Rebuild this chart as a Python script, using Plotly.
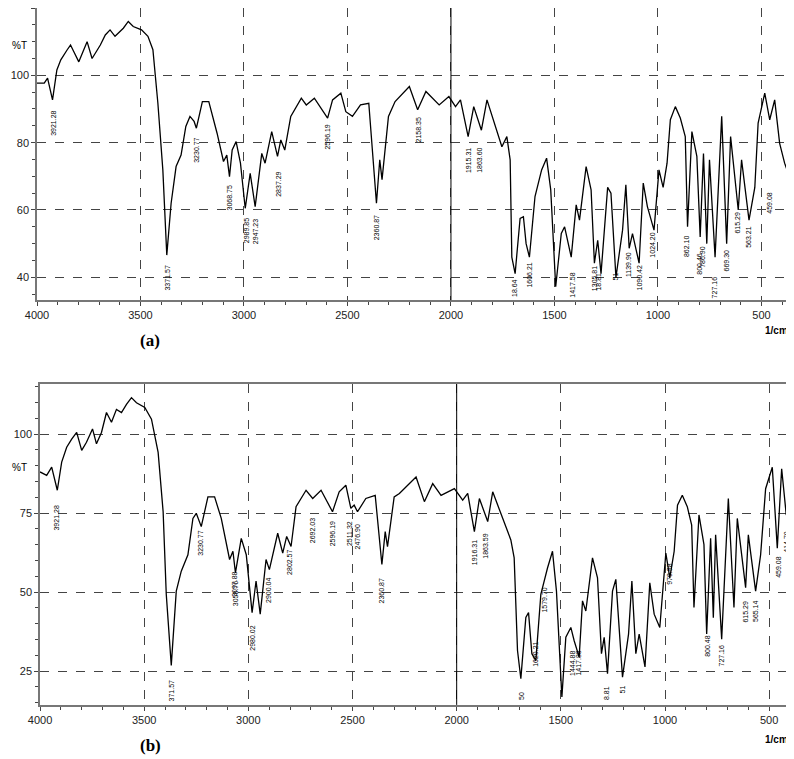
import plotly.graph_objects as go
from plotly.subplots import make_subplots

# spectrum (a): wavenumber (1/cm) and transmittance (%T)
wn_a = [4000, 3965, 3949, 3925, 3904, 3885, 3854, 3838, 3822, 3798, 3758, 3734, 3694, 3670,
        3647, 3623, 3583, 3559, 3535, 3495, 3464, 3440, 3416, 3392, 3373, 3352, 3328, 3304,
        3281, 3261, 3241, 3230, 3201, 3170, 3130, 3099, 3083, 3070, 3057, 3038, 3017, 2994,
        2970, 2946, 2914, 2898, 2866, 2838, 2822, 2803, 2774, 2723, 2699, 2660, 2596, 2572,
        2532, 2508, 2476, 2437, 2397, 2360, 2344, 2333, 2302, 2270, 2201, 2161, 2121,
        2057, 2010, 1978, 1954, 1917, 1890, 1853, 1826, 1786, 1754, 1730, 1714, 1706, 1690,
        1666, 1650, 1637, 1621, 1594, 1562, 1538, 1518, 1494, 1467, 1451, 1435, 1419, 1395,
        1379, 1347, 1323, 1307, 1291, 1275, 1243, 1227, 1203, 1171, 1155, 1139, 1123, 1091,
        1071, 1051, 1019, 995, 975, 956, 940, 916, 892, 868, 857, 836, 812, 796, 780, 764,
        751, 724, 692, 668, 649, 612, 596, 560, 532, 516, 484, 460, 436, 412, 388, 365]
t_a = [97.7, 97.7, 99.2, 92.7, 101.6, 104.6, 107.6, 109, 107, 104, 110, 105, 109, 112,
       113.5, 111.6, 114, 116, 114.5, 113.5, 111.6, 107.6, 91.7, 71.9, 46.6, 62, 72.9, 76.3,
       84.8, 87.8, 86.3, 84.3, 92.2, 92.2, 82.8, 74.4, 76.3, 69.9, 77.8, 80.3, 73.9, 60.5,
       70.9, 61, 76.8, 73.9, 83.3, 75.9, 80.8, 77.8, 87.8, 93.2, 91.2, 93.2, 87.3, 92.7,
       94.7, 89.2, 87.8, 91.2, 91.7, 62, 74.9, 69, 87.8, 92.2, 96.7, 89.8, 95.2,
       91.2, 93.7, 90.7, 92.7, 81.8, 90.7, 83.7, 92.7, 84.8, 78.8, 81.8, 74.9, 46, 41.1,
       57.5, 58, 50, 46, 64, 71.9, 75.4, 66, 37.2, 53, 55, 50, 46, 61.5,
       57, 72.9, 66, 44.2, 51, 41.1, 66.7, 65, 40, 54, 67.5, 48.6, 53, 44.2,
       68, 61, 54, 71.9, 66.7, 73.9, 86.8, 90.7, 87.3, 81.8, 55, 83.3, 75.9, 52, 76.8, 50,
       74.9, 46, 87.8, 50, 81.8, 60, 74.9, 57, 66.7, 85.8, 94.7, 86.8, 92.7, 79.8, 73.9, 70]

# spectrum (b)
wn_b = [4000, 3968, 3944, 3917, 3896, 3872, 3848, 3824, 3800, 3777, 3748, 3729, 3705, 3681,
        3657, 3633, 3609, 3585, 3561, 3537, 3497, 3465, 3433, 3409, 3394, 3370, 3346, 3322,
        3290, 3266, 3250, 3226, 3194, 3162, 3130, 3090, 3074, 3062, 3034, 3010, 2982, 2963,
        2943, 2915, 2899, 2859, 2835, 2816, 2795, 2771, 2723, 2691, 2651, 2596, 2564, 2532,
        2508, 2492, 2476, 2436, 2391, 2359, 2343, 2332, 2300, 2275, 2195, 2155, 2115, 2075,
        2011, 1971, 1947, 1915, 1891, 1851, 1827, 1771, 1740, 1724, 1708, 1692, 1668, 1655,
        1639, 1620, 1596, 1564, 1540, 1521, 1495, 1476, 1452, 1436, 1412, 1396, 1380, 1348,
        1324, 1305, 1292, 1276, 1252, 1236, 1204, 1175, 1159, 1140, 1124, 1096, 1073, 1052,
        1025, 996, 977, 956, 940, 917, 893, 872, 861, 837, 813, 800, 781, 768, 757, 728,
        696, 669, 653, 613, 600, 565, 541, 517, 485, 461, 440, 418, 397]
t_b = [88, 86.9, 89.5, 82.2, 91.1, 95.8, 98.4, 100.5, 94.8, 97.4, 101.6, 96.9, 100.5, 106.8,
       103.7, 107.8, 106.8, 109.4, 111.5, 109.9, 108.4, 104.7, 94.2, 75.4, 49.3, 26.8, 50.3, 56.6,
       61.8, 73.3, 74.9, 70.7, 80.1, 80.1, 73.3, 60.3, 62.9, 56.1, 67, 61.8, 43.5, 53.5,
       43, 60.3, 57.1, 68.6, 62.3, 67.6, 64.4, 77, 82.2, 79.6, 82.2, 75.4, 81.7, 83.8,
       76.5, 77.5, 75.4, 79.6, 80.6, 58.7, 69.1, 64.4, 80.1, 81.2, 86.4, 78.6, 84.3, 80.6,
       82.7, 79.1, 81.2, 69.1, 79.6, 72.3, 81.7, 72.3, 66.5, 60.8, 31.5, 22.6, 42, 43.5,
       30.5, 28.3, 49.3, 57.6, 62.9, 50.3, 16.8, 35.7, 38.8, 34.6, 29.4, 47.2, 44, 60.8,
       54.5, 30.5, 35.7, 24.2, 50.3, 54, 23.1, 36.7, 53.5, 30.5, 36.7, 26.3, 52.9, 43,
       38.8, 62.3, 54.5, 62.9, 77.5, 80.6, 77, 71.2, 45.1, 74.4, 65, 36.7, 67, 41.9, 68.1, 35.1,
       79.6, 45.1, 73.3, 51.4, 68.1, 50.3, 61.8, 82.7, 89.5, 63.9, 89, 74.4, 75.4]

# peak labels: position, label top (%T), text
peaks_a_x = [3921, 3371, 3230, 3068, 2990, 2947, 2837, 2596, 2360, 2158, 1915, 1863,
             1692, 1620, 1417, 1305, 1285, 1203, 1139, 1091, 1024, 862, 800, 786, 727, 669,
             615, 563, 459]
peaks_a_y = [90, 44, 82, 68, 58, 58, 72, 86, 59, 88, 79, 79,
             40, 45, 42, 44, 42, 42, 48, 44, 54, 53, 48, 50, 41, 49, 60, 56, 66]
peaks_a_t = ["3921.28", "3371.57", "3230.77", "3068.75", "2989.85", "2947.23", "2837.29",
             "2596.19", "2360.87", "2158.35", "1915.31", "1863.60", "18.64", "1606.21",
             "1417.58", "1305.81", "18.81", "51", "1139.90", "1090.42", "1024.20", "862.10",
             "800.46", "786.90", "727.16", "669.30", "615.29", "563.21", "459.08"]

peaks_b_x = [3921, 3371, 3230, 3067, 3058, 2980, 2900, 2802, 2692, 2596, 2511, 2476, 2360,
             1915, 1863, 1692, 1620, 1579, 1444, 1417, 1282, 1203, 979, 800, 727, 615, 565,
             459, 415]
peaks_b_y = [78, 23, 70, 57, 54, 40, 55, 64, 74, 73, 73, 72, 55,
             67, 69, 19, 35, 52, 32, 32, 21, 21, 60, 37, 34, 48, 48, 62, 70]
peaks_b_t = ["3921.28", "371.57", "3230.77", "3097.88", "3058.76", "2980.02", "2900.04",
             "2802.57", "2692.03", "2596.19", "2511.32", "2476.90", "2360.87", "1916.31",
             "1863.59", "50", "1620.21", "1579.70", "1444.88", "1417.88", "8.81", "51",
             "979.98", "800.48", "727.16", "615.29", "565.14", "459.08", "414.70"]

fig = make_subplots(rows=2, cols=1)
fig.add_trace(go.Scatter(x=wn_a, y=t_a, mode="lines", line=dict(color="black", width=1.3)),
              row=1, col=1)
fig.add_trace(go.Scatter(x=wn_b, y=t_b, mode="lines", line=dict(color="black", width=1.3)),
              row=2, col=1)

font_ax = dict(family="Liberation Sans, Arial", size=11, color="#222")
ax_common = dict(showline=True, linecolor="#777", linewidth=1.5, mirror=True, ticks="outside",
                 ticklen=4, tickcolor="#444", showgrid=True, gridcolor="#444", griddash="dash",
                 gridwidth=0.8, zeroline=False, tickfont=font_ax, automargin=False,
                 minor=dict(ticks="outside", ticklen=3, tickcolor="#444", showgrid=False))

fig.update_xaxes(ax_common, tickvals=[4000, 3500, 3000, 2500, 2000, 1500, 1000, 500],
                 minor_dtick=100)
fig.update_xaxes(range=[4000, 362], domain=[0, 1], row=1, col=1)
fig.update_xaxes(range=[4000, 400], domain=[0.004, 1], row=2, col=1)
fig.update_yaxes(ax_common)
fig.update_yaxes(range=[33.2, 120], tickvals=[40, 60, 80, 100, 120], minor_dtick=5,
                 domain=[0.582, 1], row=1, col=1)
fig.update_yaxes(range=[14.3, 115.8], tickvals=[25, 50, 75, 100], minor_dtick=5,
                 domain=[0.003, 0.462], row=2, col=1)

# solid line at 2000 on both panels
for r in (1, 2):
    fig.add_vline(x=2000, line=dict(color="black", width=1), row=r, col=1)

lab_font = dict(family="Liberation Sans Narrow, Arial", size=7, color="black")
for xs, ys, ts, r in ((peaks_a_x, peaks_a_y, peaks_a_t, "1"), (peaks_b_x, peaks_b_y, peaks_b_t, "2")):
    xr = "x" if r == "1" else "x2"
    yr = "y" if r == "1" else "y2"
    for px, py, pt in zip(xs, ys, ts):
        fig.add_annotation(x=px, y=py, xref=xr, yref=yr, text=pt, textangle=-90,
                           showarrow=False, yanchor="top", xanchor="center", font=lab_font)

for txt, y in (("%T", 0.957), ("%T", 0.332)):
    fig.add_annotation(x=-0.036, y=y, xref="paper", yref="paper", text=txt, showarrow=False,
                       xanchor="left", font=dict(family="Liberation Sans", size=10, color="black"))
for y in (0.538, -0.046):
    fig.add_annotation(x=1.0, y=y, xref="paper", yref="paper", text="<b>1/cm</b>",
                       showarrow=False, xanchor="right", yanchor="middle",
                       font=dict(family="Liberation Sans", size=10, color="black"))
for txt, y in (("(a)", 0.524), ("(b)", -0.071)):
    fig.add_annotation(x=0.134, y=y, xref="paper", yref="paper", text=f"<b>{txt}</b>",
                       showarrow=False, font=dict(family="Liberation Serif", size=17, color="black"))

fig.update_layout(width=786, height=751, margin=dict(l=29, r=4, t=0, b=52),
                  paper_bgcolor="white", plot_bgcolor="white", showlegend=False)
fig.write_html("out.html")
